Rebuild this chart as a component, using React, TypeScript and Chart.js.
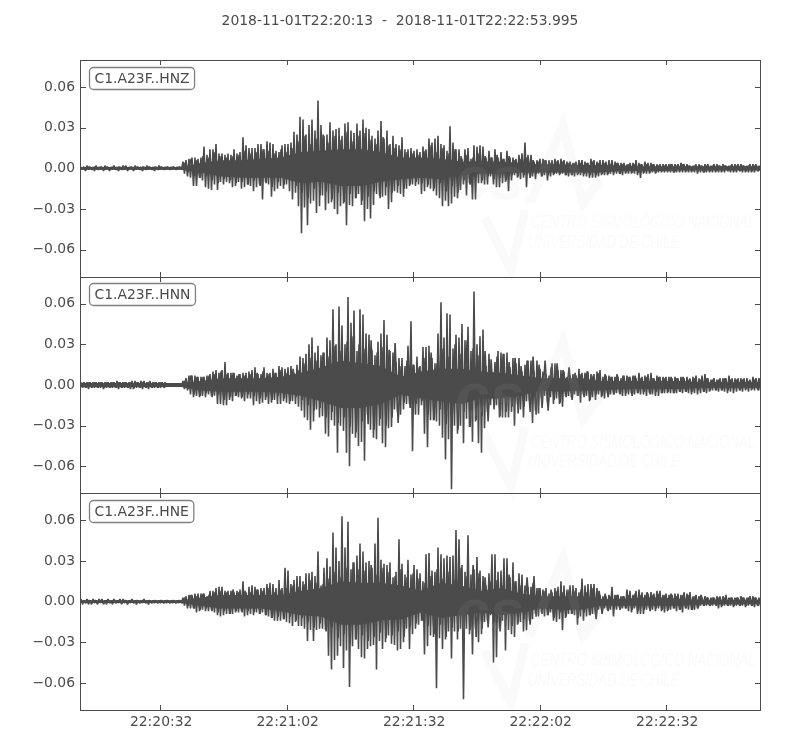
import React, { useEffect, useRef } from "react";
import { Chart, registerables } from "chart.js";

Chart.register(...registerables);

const titleText = "2018-11-01T22:20:13  -  2018-11-01T22:22:53.995";
const channelNames = ["C1.A23F..HNZ", "C1.A23F..HNN", "C1.A23F..HNE"];
const yTickValues = [-0.06, -0.03, 0, 0.03, 0.06];
const xTickSeconds = [19, 49, 79, 109, 139];
const xTickLabels = ["22:20:32", "22:21:02", "22:21:32", "22:22:02", "22:22:32"];
const durationSeconds = 160.995;
const columnSeconds = 0.7113;
const fillColumnSeconds = 1.4226;
const bandSeconds = 4.742;

// Envelope of each trace, in 0.001 units.
const hnzUp = [
  1,1,2,1,1,2,1,1,2,1, 1,2,1,1,2,2,1,1,2,1, 1,1,2,1,1,1,2,1,1,1, 1,1,1,1,
  5,6,7,8,8,7,8,16,10,14, 14,18,11,11,10,11,10,14,11,12, 23,17,15,15,15,18,18,14,20,19,
  18,13,12,17,18,18,19,27,25,38, 36,25,32,36,28,50,32,24,25,34, 28,29,30,24,33,34,28,26,33,28,
  36,30,29,24,22,28,35,22,28,18, 24,18,17,23,14,14,15,13,14,12,
  16,14,22,19,22,24,18,17,13,31, 19,14,14,7,14,15,7,17,16,17, 16,8,13,8,14,8,12,7,13,8,
  8,7,10,11,19,10,10,5,6,7, 7,6,6,
  6,7,6,7,6,5,5,4,5,6, 6,5,4,7,6,5,6,6,5,6, 6,5,4,4,4,3,4,4,6,4,
  3,5,4,4,3,3,3,3,3,3, 3,3,3,4,3,3,2,2,3,3, 2,3,3,2,3,3,2,3,2,2, 3,3,3,3,2,2,3,3,3,2,
];
const hnzDown = [
  -1,-2,-1,-1,-2,-1,-1,-2,-1,-2, -1,-1,-2,-1,-1,-2,-1,-2,-1,-1, -2,-1,-1,-1,-2,-1,-1,-1,-1,-1, -1,-1,-1,-1,
  -4,-6,-7,-13,-13,-7,-9,-14,-15,-16, -12,-16,-10,-12,-10,-11,-14,-13,-10,-15, -14,-12,-13,-17,-14,-12,-23,-10,-12,-21,
  -17,-15,-13,-15,-12,-17,-23,-18,-28,-48, -29,-42,-26,-24,-33,-28,-20,-31,-26,-25, -30,-34,-28,-26,-42,-27,-28,-22,-19,-27,
  -39,-30,-37,-27,-19,-20,-21,-20,-30,-25, -17,-18,-19,-21,-15,-13,-12,-13,-12,-19,
  -17,-14,-15,-17,-20,-22,-28,-24,-28,-26, -21,-22,-16,-12,-20,-11,-23,-23,-11,-11, -12,-12,-6,-12,-14,-14,-11,-10,-17,-9,
  -5,-7,-8,-7,-14,-4,-6,-8,-4,-6, -5,-9,-6,
  -5,-4,-5,-4,-5,-6,-5,-6,-5,-5, -6,-6,-7,-7,-7,-6,-5,-5,-5,-4, -5,-4,-4,-5,-4,-4,-4,-4,-5,-7,
  -4,-4,-4,-3,-4,-3,-3,-3,-3,-3, -3,-3,-3,-3,-3,-3,-3,-3,-4,-3, -3,-3,-3,-3,-3,-3,-3,-3,-2,-3, -3,-3,-2,-3,-3,-3,-3,-3,-2,-2,
];
const hnnUp = [
  2,2,2,2,2,2,2,2,2,2, 2,2,3,2,2,2,2,3,3,2, 3,3,2,3,2,2,2,2,2,1, 1,1,1,1,
  3,5,7,7,7,6,6,6,7,8, 10,11,9,11,17,9,9,9,7,8, 9,9,10,11,13,8,8,13,9,9,
  12,9,14,13,12,13,14,9,15,21, 20,23,30,35,24,29,22,24,35,33, 56,30,58,44,30,65,46,55,25,56,
  52,38,37,26,22,32,38,48,37,25, 24,17,20,20,14,29,47,15,21,14,
  28,28,29,20,16,38,61,35,53,52, 27,37,35,45,33,43,25,69,30,36, 41,14,23,8,17,25,24,23,24,13,
  20,16,20,10,15,18,18,10,18,12, 10,8,7,16,16,11,11,10,6,7, 8,7,12,9,9,10,8,8,10,11,
  6,7,7,6,6,6,5,7,7,6, 7,5,9,6,7,8,9,5,7,6, 6,
  6,6,5,6,5,6,5,6,5,6, 7,5,7,8,5,4,5,4,5,5, 5,7,5,5,5,5,5,5,4,6, 5,5,
];
const hnnDown = [
  -2,-2,-3,-2,-2,-2,-2,-3,-2,-2, -2,-2,-3,-2,-2,-2,-3,-3,-2,-2, -3,-2,-3,-2,-2,-2,-2,-1,-1,-1, -1,-1,-1,-1,
  -3,-4,-7,-9,-8,-9,-8,-9,-7,-8, -8,-14,-14,-15,-15,-11,-12,-8,-9,-10, -12,-10,-10,-15,-12,-14,-13,-11,-14,-13,
  -11,-14,-14,-12,-13,-14,-12,-14,-16,-19, -24,-26,-33,-27,-18,-24,-23,-36,-38,-26, -30,-50,-30,-34,-50,-60,-36,-39,-45,-42,
  -56,-22,-33,-39,-40,-30,-43,-46,-32,-31, -18,-20,-22,-18,-14,-14,-49,-22,-22,-15,
  -36,-46,-26,-26,-27,-30,-39,-55,-40,-77, -30,-36,-30,-43,-25,-31,-42,-27,-43,-50, -32,-20,-15,-10,-15,-24,-24,-24,-24,-20,
  -30,-14,-18,-24,-12,-12,-28,-19,-21,-10, -8,-13,-9,-14,-10,-14,-16,-8,-8,-9, -7,-8,-13,-7,-8,-12,-9,-11,-7,-9,
  -10,-6,-7,-7,-6,-6,-8,-8,-7,-6, -7,-6,-7,-7,-8,-6,-7,-8,-8,-6, -6,
  -6,-6,-6,-6,-5,-6,-5,-6,-7,-6, -7,-6,-5,-6,-5,-4,-4,-5,-4,-5, -6,-5,-6,-5,-4,-5,-4,-5,-4,-4, -3,-4,
];
const hneUp = [
  2,1,2,1,2,1,2,2,1,2, 1,2,1,2,2,1,1,2,1,1, 1,2,1,1,1,1,1,1,1,1, 1,1,1,1,
  3,4,5,5,6,6,6,6,4,8, 8,10,11,11,8,8,8,7,8,9, 15,7,11,12,11,9,10,10,13,14,
  13,10,16,10,25,23,13,16,19,19, 15,21,21,22,19,37,12,25,32,26, 51,40,30,63,40,59,24,29,34,43,
  37,29,30,25,43,62,31,28,27,29, 18,22,46,28,20,31,20,27,24,21,
  15,35,36,23,22,40,35,32,34,33, 34,53,46,27,22,49,20,24,33,23, 19,12,21,35,35,22,23,32,32,18,
  29,15,21,20,12,11,11,19,10,10, 9,10,6,7,10,11,15,12,9,12, 12,10,7,17,12,13,13,13,10,5,
  4,4,5,11,5,5,4,4,9,8, 5,8,9,7,5,6,7,6,8,8, 5,6,5,5,6,6,5,7,6,7,
  4,5,4,3,4,3,3,3,4,4, 4,5,3,3,3,3,4,3,3,4, 4,3,3,
];
const hneDown = [
  -2,-1,-2,-2,-1,-2,-1,-2,-2,-1, -2,-1,-1,-2,-1,-2,-1,-1,-2,-1, -1,-1,-2,-1,-1,-1,-1,-1,-1,-1, -1,-1,-1,-1,
  -3,-5,-5,-5,-8,-7,-6,-7,-7,-6, -8,-10,-11,-10,-9,-9,-9,-8,-8,-7, -11,-10,-9,-10,-8,-9,-8,-10,-11,-12,
  -14,-14,-14,-13,-15,-16,-18,-15,-18,-18, -20,-29,-21,-29,-21,-20,-20,-21,-40,-50, -43,-40,-33,-49,-36,-63,-33,-28,-35,-41,
  -42,-35,-33,-32,-50,-29,-35,-30,-25,-31, -32,-36,-35,-30,-20,-35,-24,-20,-17,-14,
  -39,-33,-25,-26,-64,-27,-35,-28,-22,-42, -22,-28,-20,-72,-20,-24,-39,-20,-30,-24, -15,-14,-10,-45,-41,-20,-14,-36,-21,-24,
  -26,-17,-15,-22,-21,-14,-13,-9,-11,-8, -11,-10,-8,-14,-15,-13,-21,-12,-9,-9, -10,-17,-11,-14,-11,-10,-9,-9,-6,-5,
  -5,-6,-6,-11,-6,-4,-5,-5,-7,-8, -5,-9,-9,-9,-6,-5,-6,-7,-5,-7, -8,-7,-6,-5,-7,-6,-8,-5,-6,-6,
  -6,-5,-3,-3,-3,-3,-3,-2,-5,-4, -3,-3,-3,-4,-3,-3,-3,-4,-3,-3, -4,-3,-3,
];

// Shoulder height between the tall spikes, read every second column.
const hnzFillUp = [
  1,1,1,1,1,1,1,1,1,1, 1,1,1,1,1,1,1,
  4,7,6,9,8, 12,9,8,9,10, 13,11,12,14,13, 11,14,12,15,20, 24,18,22,25,19, 24,21,27,20,24, 26,21,18,23,17, 15,14,12,11,10,
  13,17,12,15,11, 14,9,10,8,11, 9,8,10,7,9, 6,7,8,6,5, 6,4,5,5,4, 4,4,4,5,4, 4,3,4,3,3, 3,3,3,3,2, 2,3,2,3,2, 2,2,2,2,2, 2,2,2,2,2, 2,2,
];
const hnzFillDown = [
  -1,-1,-1,-1,-1,-1,-1,-1,-1,-1, -1,-1,-1,-1,-1,-1,-1,
  -3,-6,-7,-6,-9, -11,-8,-9,-11,-10, -12,-9,-13,-11,-14, -10,-12,-9,-13,-18, -22,-15,-20,-17,-23, -18,-25,-19,-22,-24, -21,-17,-22,-14,-18, -13,-15,-12,-10,-11,
  -12,-15,-11,-17,-13, -18,-9,-12,-7,-9, -6,-8,-7,-9,-5, -6,-5,-7,-4,-6, -5,-4,-4,-5,-5, -4,-4,-5,-5,-4, -4,-3,-4,-3,-3, -3,-3,-3,-3,-2, -2,-3,-2,-2,-2, -2,-3,-2,-2,-2, -2,-2,-2,-2,-2, -2,-2,
];
const hnnFillUp = [
  2,2,2,2,2,2,2,2,2,2, 2,2,2,2,1,1,1,
  3,7,6,6,7, 8,10,8,9,8, 7,8,9,10,8, 9,11,9,12,11, 16,20,18,24,21, 29,25,32,36,30, 27,33,24,28,26, 31,14,18,15,13,
  20,24,16,27,21, 30,23,33,27,22, 25,19,21,23,17, 20,14,18,21,15, 18,13,16,11,13, 9,8,10,7,9, 8,6,8,7,6, 7,5,6,5,6, 5,6,5,6,4, 5,4,5,4,4, 5,4,4,4,3, 4,3,
];
const hnnFillDown = [
  -2,-2,-2,-2,-2,-2,-2,-2,-2,-2, -2,-2,-2,-2,-1,-1,-1,
  -3,-7,-8,-6,-9, -7,-11,-9,-8,-9, -7,-8,-10,-9,-11, -8,-10,-12,-9,-11, -15,-19,-17,-24,-20, -28,-24,-31,-35,-27, -29,-33,-25,-30,-24, -28,-13,-17,-14,-12,
  -22,-26,-18,-29,-24, -33,-20,-31,-26,-23, -27,-18,-23,-20,-16, -21,-16,-20,-22,-17, -19,-11,-13,-9,-11, -8,-9,-11,-7,-8, -9,-7,-7,-6,-8, -6,-5,-7,-5,-6, -5,-6,-5,-5,-5, -4,-5,-4,-4,-4, -4,-3,-4,-3,-3, -4,-3,
];
const hneFillUp = [
  1,1,1,1,1,1,1,1,1,1, 1,1,1,1,1,1,1,
  3,5,4,6,5, 7,8,7,9,7, 8,7,9,8,10, 7,9,10,12,11, 13,16,14,13,17, 22,18,25,29,24, 23,27,20,25,22, 19,24,18,21,17,
  14,19,24,17,22, 16,25,19,27,21, 18,15,16,12,20, 15,12,18,14,10, 8,9,8,7,9, 8,9,7,10,8, 6,4,5,4,5, 6,5,7,5,6, 5,6,4,5,5, 4,5,3,3,3, 3,3,3,3,3, 3,3,
];
const hneFillDown = [
  -1,-1,-1,-1,-1,-1,-1,-1,-1,-1, -1,-1,-1,-1,-1,-1,-1,
  -3,-5,-6,-5,-7, -8,-7,-9,-7,-8, -7,-8,-9,-10,-12, -11,-13,-11,-14,-12, -15,-19,-16,-22,-19, -27,-24,-31,-28,-25, -29,-26,-23,-27,-25, -22,-26,-19,-16,-14,
  -18,-24,-17,-26,-19, -22,-17,-21,-26,-20, -19,-15,-22,-13,-18, -16,-13,-17,-11,-9, -10,-12,-8,-11,-9, -12,-8,-10,-13,-9, -7,-5,-6,-5,-6, -7,-6,-7,-5,-6, -6,-5,-6,-5,-6, -5,-3,-3,-3,-3, -3,-3,-3,-3,-3, -3,-3,
];

// The solid core of each trace, in 0.001 units, read every few seconds.
const hnzCoreUp = [1,1,1,1,1,1,4,6,6,7,8,12,13,14,14,12,8,8,7,5,5,5,4,3,3,2.5,2.5,2,1.5,1.5,1.5,1.5,1.5,1.5,1.5];
const hnzCoreDown = [-1,-1,-1,-1,-1,-1,-3,-6,-7,-7,-7,-11,-10,-13,-13,-10,-8,-7,-8,-5,-4,-4,-3,-3,-3,-3,-3,-2,-2,-2,-1.5,-1.5,-1.5,-1.5,-1.5];
const hnnCoreUp = [1.5,1.5,1.5,1.5,1.5,1.5,3,5,5,5,6,9,13,18,16,14,6,10,12,12,10,9,7,5,5,5,3,3,3,3,3,2,2,2,2];
const hnnCoreDown = [-1.5,-1.5,-1.5,-1.5,-1.5,-1.5,-4,-5,-5,-5,-6,-8,-12,-17,-17,-14,-7,-10,-12,-14,-10,-10,-8,-4,-5,-4,-4,-3,-3,-3,-3,-2,-2,-2,-2];
const hneCoreUp = [1,1,1,1,1,1,3,5,5,5,5,8,10,15,14,14,12,8,14,12,8,10,6,4,4,4,2,2,3,3,2,1.5,1.5,1.5,1.5];
const hneCoreDown = [-1,-1,-1,-1,-1,-1,-3,-5,-5,-5,-7,-10,-11,-17,-17,-14,-13,-8,-12,-10,-8,-10,-8,-5,-6,-6,-3,-3,-3,-3,-3,-2,-2,-2,-1.5];

const traces = [
  { up: hnzUp, down: hnzDown, fillUp: hnzFillUp, fillDown: hnzFillDown, coreUp: hnzCoreUp, coreDown: hnzCoreDown },
  { up: hnnUp, down: hnnDown, fillUp: hnnFillUp, fillDown: hnnFillDown, coreUp: hnnCoreUp, coreDown: hnnCoreDown },
  { up: hneUp, down: hneDown, fillUp: hneFillUp, fillDown: hneFillDown, coreUp: hneCoreUp, coreDown: hneCoreDown },
];

const INK = "#4b4b4b";
const FONT = '"DejaVu Sans"';
const axisIds = ["y1", "y2", "y3"];

function buildTrace(up: number[], down: number[], step: number, offset: number) {
  const pts: { x: number; y: number }[] = [];
  up.forEach((u, i) => {
    if (down[i] === undefined) return;
    const t = offset + i * step;
    pts.push({ x: t, y: u / 1000 });
    pts.push({ x: t + step / 2, y: down[i] / 1000 });
  });
  return pts;
}

function buildCore(values: number[]) {
  return values.map((v, i) => ({ x: i * bandSeconds, y: v / 1000 }));
}

const watermarkPlugin = {
  id: "watermark",
  afterDatasetsDraw(chart: any) {
    const { ctx } = chart;
    const rows = [
      [163, 183],
      [166, 185],
      [168, 188],
    ];
    ctx.save();
    axisIds.forEach((id, p) => {
      const top = chart.scales[id].top;
      const tone = "rgba(190,190,190,0.08)";
      ctx.fillStyle = tone;
      ctx.strokeStyle = tone;
      ctx.textBaseline = "middle";
      ctx.textAlign = "left";
      ctx.font = `italic 300 18px "Liberation Sans"`;
      ctx.fillText("CENTRO SISMOLÓGICO NACIONAL", 531, top + rows[p][0], 224);
      ctx.fillText("UNIVERSIDAD DE CHILE", 528, top + rows[p][1], 151);
      ctx.lineWidth = 9;
      ctx.lineJoin = "miter";
      ctx.beginPath();
      ctx.moveTo(530, top + 143);
      ctx.lineTo(563, top + 65);
      ctx.lineTo(583, top + 143);
      ctx.lineTo(600, top + 120);
      ctx.stroke();
      ctx.beginPath();
      ctx.moveTo(485, top + 158);
      ctx.lineTo(511, top + 210);
      ctx.lineTo(525, top + 150);
      ctx.stroke();
      ctx.font = `italic bold 62px "Liberation Sans"`;
      ctx.fillText("cs", 455, top + 122);
    });
    ctx.restore();
  },
};

const framePlugin = {
  id: "frame",
  afterDraw(chart: any) {
    const { ctx, chartArea } = chart;
    const xScale = chart.scales.x;
    const L = chartArea.left;
    const R = chartArea.right;
    const labelOffsets = [7.5, 6.5, 7.5];
    ctx.save();
    ctx.strokeStyle = INK;
    ctx.lineWidth = 1;
    axisIds.forEach((id, p) => {
      const s = chart.scales[id];
      const top = Math.round(s.top);
      const bottom = Math.round(s.bottom);
      ctx.strokeRect(L - 0.5, top + 0.5, R - L + 1, bottom - top);
      ctx.beginPath();
      xTickSeconds.forEach((v) => {
        const x = Math.round(xScale.getPixelForValue(v)) - 0.5;
        ctx.moveTo(x, top);
        ctx.lineTo(x, top + 5);
        ctx.moveTo(x, bottom);
        ctx.lineTo(x, bottom - 5);
      });
      yTickValues.forEach((v) => {
        const y = Math.round(s.getPixelForValue(v)) + 0.5;
        ctx.moveTo(L, y);
        ctx.lineTo(L + 5, y);
        ctx.moveTo(R, y);
        ctx.lineTo(R - 5, y);
      });
      ctx.stroke();

      ctx.font = `13.9px ${FONT}`;
      const w = ctx.measureText(channelNames[p]).width;
      const bx = L + 8.5;
      const by = top + labelOffsets[p];
      const bw = w + 10;
      const bh = 22;
      ctx.beginPath();
      ctx.roundRect(bx, by, bw, bh, 4);
      ctx.fillStyle = "#ffffff";
      ctx.fill();
      ctx.strokeStyle = "#7f7f7f";
      ctx.lineWidth = 1.3;
      ctx.stroke();
      ctx.strokeStyle = INK;
      ctx.lineWidth = 1;
      ctx.fillStyle = INK;
      ctx.textAlign = "left";
      ctx.textBaseline = "middle";
      ctx.fillText(channelNames[p], bx + 5, by + bh / 2 + 0.5);
    });
    ctx.restore();
  },
};

function yAxis() {
  return {
    type: "linear",
    position: "left",
    stack: "traces",
    stackWeight: 1,
    min: -0.08,
    max: 0.08,
    grid: { display: false, drawTicks: false },
    border: { display: false },
    afterBuildTicks(axis: any) {
      axis.ticks = yTickValues.map((value) => ({ value }));
    },
    afterFit(axis: any) {
      axis.width = 81;
    },
    ticks: {
      color: INK,
      padding: 6,
      font: { family: FONT, size: 13.9 },
      callback: (v: number) => v.toFixed(2).replace("-", "\u2212"),
    },
  };
}

export default function App() {
  const ref = useRef<HTMLCanvasElement>(null);
  useEffect(() => {
    const datasets: any[] = [];
    traces.forEach((t, i) => {
      const coreIndex = datasets.length;
      datasets.push({
        label: channelNames[i] + " core",
        data: buildCore(t.coreUp),
        yAxisID: axisIds[i],
        borderWidth: 0,
        borderColor: INK,
        backgroundColor: INK,
        pointRadius: 0,
        tension: 0,
        fill: { target: coreIndex + 1 },
      });
      datasets.push({
        label: channelNames[i] + " core lower",
        data: buildCore(t.coreDown),
        yAxisID: axisIds[i],
        borderWidth: 0,
        borderColor: INK,
        pointRadius: 0,
        tension: 0,
        fill: false,
      });
      datasets.push({
        label: channelNames[i] + " shoulders",
        data: buildTrace(t.fillUp, t.fillDown, fillColumnSeconds, 0.5),
        yAxisID: axisIds[i],
        borderColor: INK,
        borderWidth: 1.6,
        borderJoinStyle: "bevel",
        pointRadius: 0,
        tension: 0,
        fill: false,
      });
      datasets.push({
        label: channelNames[i],
        data: buildTrace(t.up, t.down, columnSeconds, 0),
        yAxisID: axisIds[i],
        borderColor: INK,
        borderWidth: 1.6,
        borderJoinStyle: "bevel",
        pointRadius: 0,
        tension: 0,
        fill: false,
      });
    });
    const chart = new Chart(ref.current as HTMLCanvasElement, {
      type: "line",
      data: { datasets },
      options: {
        animation: false,
        responsive: false,
        layout: { padding: 0 },
        plugins: {
          legend: { display: false },
          tooltip: { enabled: false },
          title: {
            display: true,
            text: titleText,
            color: INK,
            font: { family: FONT, size: 13.9, weight: "normal" },
            padding: { top: 13, bottom: 30.3 },
          },
        },
        scales: {
          x: {
            type: "linear",
            min: 0,
            max: durationSeconds,
            grid: { display: false, drawTicks: false },
            border: { display: false },
            afterBuildTicks(axis: any) {
              axis.ticks = xTickSeconds.map((value) => ({ value }));
            },
            afterFit(axis: any) {
              axis.height = 40;
            },
            ticks: {
              color: INK,
              padding: 4,
              maxRotation: 0,
              autoSkip: false,
              font: { family: FONT, size: 13.9 },
              callback: (v: number) => xTickLabels[xTickSeconds.indexOf(v)],
            },
          },
          y3: yAxis(),
          y2: yAxis(),
          y1: yAxis(),
          rightMargin: {
            type: "linear",
            position: "right",
            grid: { display: false, drawTicks: false },
            border: { display: false },
            ticks: { display: false },
            afterFit(axis: any) {
              axis.width = 40;
            },
          },
        },
      } as any,
      plugins: [watermarkPlugin, framePlugin],
    } as any);
    return () => chart.destroy();
  }, []);
  return (
    <div style={{ position: "absolute", left: 0, top: 0, width: 800, height: 750, background: "#ffffff" }}>
      <canvas ref={ref} width={800} height={750} style={{ display: "block" }} />
    </div>
  );
}
